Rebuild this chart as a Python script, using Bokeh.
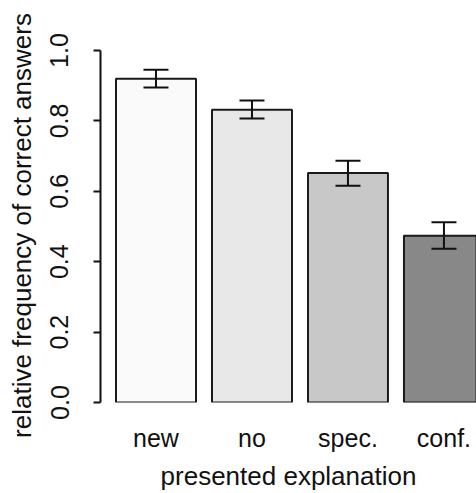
from bokeh.plotting import figure
from bokeh.models import Range1d, FixedTicker, Whisker, ColumnDataSource, TeeHead, PrintfTickFormatter
from bokeh.embed import file_html
from bokeh.resources import INLINE

categories = ["new", "no", "spec.", "conf."]
values = [0.920, 0.832, 0.652, 0.474]
err_low = [0.895, 0.807, 0.616, 0.437]
err_high = [0.945, 0.858, 0.687, 0.512]
colors = ["#fafafa", "#e8e8e8", "#c8c8c8", "#888888"]
y_ticks = [0.0, 0.2, 0.4, 0.6, 0.8, 1.0]

xs = list(range(len(categories)))
src = ColumnDataSource(dict(x=xs, value=values, lo=err_low, hi=err_high, color=colors))

FONT = "Liberation Sans"

p = figure(width=476, height=493, output_backend="svg", toolbar_location=None,
           x_range=Range1d(-0.578, 3.339), y_range=Range1d(0, 1.0057),
           min_border_left=100, min_border_right=0, min_border_top=48, min_border_bottom=91)
p.outline_line_color = None
p.grid.visible = False
p.background_fill_color = "white"

p.vbar(x="x", top="value", bottom=0, width=0.8333, fill_color="color",
       line_color="#1a1a1a", line_width=2, source=src)

w = Whisker(source=src, base="x", lower="lo", upper="hi", line_color="#111111", line_width=2,
            level="overlay",
            upper_head=TeeHead(size=25, line_width=2, line_color="#111111"),
            lower_head=TeeHead(size=25, line_width=2, line_color="#111111"))
p.add_layout(w)

ya = p.yaxis[0]
ya.ticker = FixedTicker(ticks=y_ticks)
ya.formatter = PrintfTickFormatter(format="%.1f")
ya.bounds = (0, 1)
ya.axis_line_width = 2
ya.axis_line_color = "#111111"
ya.major_tick_line_width = 2
ya.major_tick_line_color = "#111111"
ya.major_tick_in = 0
ya.major_tick_out = 7
ya.minor_tick_line_color = None
ya.major_label_orientation = "parallel"
ya.major_label_text_font = FONT
ya.major_label_text_font_size = "25px"
ya.major_label_text_color = "#111111"
ya.major_label_standoff = 25
ya.axis_label = "relative frequency of correct answers"
ya.axis_label_text_font = FONT
ya.axis_label_text_font_size = "26px"
ya.axis_label_text_font_style = "normal"
ya.axis_label_text_color = "#111111"
ya.axis_label_standoff = 11

xa = p.xaxis[0]
xa.ticker = FixedTicker(ticks=xs)
xa.major_label_overrides = {i: c for i, c in zip(xs, categories)}
xa.axis_line_color = None
xa.major_tick_line_color = None
xa.major_tick_out = 0
xa.major_tick_in = 0
xa.minor_tick_line_color = None
xa.minor_tick_out = 0
xa.major_label_text_font = FONT
xa.major_label_text_font_size = "25px"
xa.major_label_text_color = "#111111"
xa.major_label_standoff = 21
xa.axis_label = "presented explanation"
xa.axis_label_text_font = FONT
xa.axis_label_text_font_size = "26px"
xa.axis_label_text_font_style = "normal"
xa.axis_label_text_color = "#111111"
xa.axis_label_standoff = 6

open("out.html", "w").write(file_html(p, INLINE))
